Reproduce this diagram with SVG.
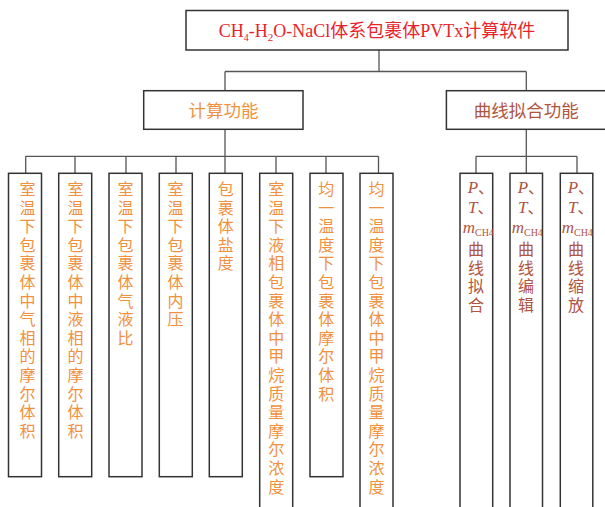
<svg xmlns="http://www.w3.org/2000/svg" width="605" height="507" viewBox="0 0 605 507">
<style>
.box{fill:#fff;stroke:#333;stroke-width:1.5}
.ln{fill:none;stroke:#555;stroke-width:1.3}
.t{font-family:"Liberation Serif","Noto Sans CJK SC",serif}
.title{font-size:18px;fill:#e8232c}
.or{font-size:16px;fill:#f0913f}
.hd{font-size:17.5px}
.br{fill:#b0553f}
.it{font-style:italic;font-size:17px}
.sub{font-size:10px}
</style>
<rect width="605" height="507" fill="#fff"/>
<g id="connectors">
<path class="ln" d="M379 50V71.5M225 71.5H526.3M225 71.5V90.7M526.3 71.5V90.7"/>
<path class="ln" d="M225 129.3V156.3M25.7 156.3H378.5M25.7 156.3V173.3M75 156.3V173.3M126 156.3V173.3M176 156.3V173.3M225 156.3V173.3M276 156.3V173.3M326 156.3V173.3M378.5 156.3V173.3"/>
<path class="ln" d="M526.3 129.3V173.3M476 156.3H577M476 156.3V173.3M577 156.3V173.3"/>
</g>
<g id="root">
<rect class="box" x="186" y="10.5" width="382" height="39.5"/>
<text class="t title" x="377" y="36.5" text-anchor="middle">CH<tspan class="sub" font-size="11" dy="4">4</tspan><tspan dy="-4">-H</tspan><tspan font-size="11" dy="4">2</tspan><tspan dy="-4">O-NaCl体系包裹体PVTx计算软件</tspan></text>
</g>
<g id="calc">
<rect class="box" x="143.7" y="90.7" width="159.3" height="38.6"/>
<text class="t hd" x="223.5" y="116.5" text-anchor="middle" fill="#f0913f">计算功能</text>
</g>
<g id="fit">
<rect class="box" x="446.4" y="90.7" width="160" height="38.6"/>
<text class="t hd br" x="526.3" y="116.5" text-anchor="middle">曲线拟合功能</text>
</g>
<g id="c1">
<rect class="box" x="8.5" y="173.3" width="33" height="303.4"/>
<text class="t or" text-anchor="middle" x="27.5" y="195"><tspan x="27.5" dy="0">室</tspan><tspan x="27.5" dy="18.6">温</tspan><tspan x="27.5" dy="18.6">下</tspan><tspan x="27.5" dy="18.6">包</tspan><tspan x="27.5" dy="18.6">裹</tspan><tspan x="27.5" dy="18.6">体</tspan><tspan x="27.5" dy="18.6">中</tspan><tspan x="27.5" dy="18.6">气</tspan><tspan x="27.5" dy="18.6">相</tspan><tspan x="27.5" dy="18.6">的</tspan><tspan x="27.5" dy="18.6">摩</tspan><tspan x="27.5" dy="18.6">尔</tspan><tspan x="27.5" dy="18.6">体</tspan><tspan x="27.5" dy="18.6">积</tspan></text>
</g>
<g id="c2">
<rect class="box" x="58.7" y="173.3" width="33" height="303.4"/>
<text class="t or" text-anchor="middle" x="75.4" y="195"><tspan x="75.4" dy="0">室</tspan><tspan x="75.4" dy="18.6">温</tspan><tspan x="75.4" dy="18.6">下</tspan><tspan x="75.4" dy="18.6">包</tspan><tspan x="75.4" dy="18.6">裹</tspan><tspan x="75.4" dy="18.6">体</tspan><tspan x="75.4" dy="18.6">中</tspan><tspan x="75.4" dy="18.6">液</tspan><tspan x="75.4" dy="18.6">相</tspan><tspan x="75.4" dy="18.6">的</tspan><tspan x="75.4" dy="18.6">摩</tspan><tspan x="75.4" dy="18.6">尔</tspan><tspan x="75.4" dy="18.6">体</tspan><tspan x="75.4" dy="18.6">积</tspan></text>
</g>
<g id="c3">
<rect class="box" x="109" y="173.3" width="33" height="303.4"/>
<text class="t or" text-anchor="middle" x="125.4" y="195"><tspan x="125.4" dy="0">室</tspan><tspan x="125.4" dy="18.6">温</tspan><tspan x="125.4" dy="18.6">下</tspan><tspan x="125.4" dy="18.6">包</tspan><tspan x="125.4" dy="18.6">裹</tspan><tspan x="125.4" dy="18.6">体</tspan><tspan x="125.4" dy="18.6">气</tspan><tspan x="125.4" dy="18.6">液</tspan><tspan x="125.4" dy="18.6">比</tspan></text>
</g>
<g id="c4">
<rect class="box" x="159.3" y="173.3" width="33" height="303.4"/>
<text class="t or" text-anchor="middle" x="175.5" y="195"><tspan x="175.5" dy="0">室</tspan><tspan x="175.5" dy="18.6">温</tspan><tspan x="175.5" dy="18.6">下</tspan><tspan x="175.5" dy="18.6">包</tspan><tspan x="175.5" dy="18.6">裹</tspan><tspan x="175.5" dy="18.6">体</tspan><tspan x="175.5" dy="18.6">内</tspan><tspan x="175.5" dy="18.6">压</tspan></text>
</g>
<g id="c5">
<rect class="box" x="209.3" y="173.3" width="33" height="303.4"/>
<text class="t or" text-anchor="middle" x="225.7" y="195"><tspan x="225.7" dy="0">包</tspan><tspan x="225.7" dy="18.6">裹</tspan><tspan x="225.7" dy="18.6">体</tspan><tspan x="225.7" dy="18.6">盐</tspan><tspan x="225.7" dy="18.6">度</tspan></text>
</g>
<g id="c6">
<rect class="box" x="259.7" y="173.3" width="33" height="345"/>
<text class="t or" text-anchor="middle" x="276.2" y="195"><tspan x="276.2" dy="0">室</tspan><tspan x="276.2" dy="18.6">温</tspan><tspan x="276.2" dy="18.6">下</tspan><tspan x="276.2" dy="18.6">液</tspan><tspan x="276.2" dy="18.6">相</tspan><tspan x="276.2" dy="18.6">包</tspan><tspan x="276.2" dy="18.6">裹</tspan><tspan x="276.2" dy="18.6">体</tspan><tspan x="276.2" dy="18.6">中</tspan><tspan x="276.2" dy="18.6">甲</tspan><tspan x="276.2" dy="18.6">烷</tspan><tspan x="276.2" dy="18.6">质</tspan><tspan x="276.2" dy="18.6">量</tspan><tspan x="276.2" dy="18.6">摩</tspan><tspan x="276.2" dy="18.6">尔</tspan><tspan x="276.2" dy="18.6">浓</tspan><tspan x="276.2" dy="18.6">度</tspan></text>
</g>
<g id="c7">
<rect class="box" x="310" y="173.3" width="33" height="303.4"/>
<text class="t or" text-anchor="middle" x="326.2" y="195"><tspan x="326.2" dy="0">均</tspan><tspan x="326.2" dy="18.6">一</tspan><tspan x="326.2" dy="18.6">温</tspan><tspan x="326.2" dy="18.6">度</tspan><tspan x="326.2" dy="18.6">下</tspan><tspan x="326.2" dy="18.6">包</tspan><tspan x="326.2" dy="18.6">裹</tspan><tspan x="326.2" dy="18.6">体</tspan><tspan x="326.2" dy="18.6">摩</tspan><tspan x="326.2" dy="18.6">尔</tspan><tspan x="326.2" dy="18.6">体</tspan><tspan x="326.2" dy="18.6">积</tspan></text>
</g>
<g id="c8">
<rect class="box" x="360" y="173.3" width="33" height="345"/>
<text class="t or" text-anchor="middle" x="376.5" y="195"><tspan x="376.5" dy="0">均</tspan><tspan x="376.5" dy="18.6">一</tspan><tspan x="376.5" dy="18.6">温</tspan><tspan x="376.5" dy="18.6">度</tspan><tspan x="376.5" dy="18.6">下</tspan><tspan x="376.5" dy="18.6">包</tspan><tspan x="376.5" dy="18.6">裹</tspan><tspan x="376.5" dy="18.6">体</tspan><tspan x="376.5" dy="18.6">中</tspan><tspan x="376.5" dy="18.6">甲</tspan><tspan x="376.5" dy="18.6">烷</tspan><tspan x="376.5" dy="18.6">质</tspan><tspan x="376.5" dy="18.6">量</tspan><tspan x="376.5" dy="18.6">摩</tspan><tspan x="376.5" dy="18.6">尔</tspan><tspan x="376.5" dy="18.6">浓</tspan><tspan x="376.5" dy="18.6">度</tspan></text>
</g>
<g id="f1">
<rect class="box" x="460" y="173.3" width="32.7" height="345"/>
<text class="t br" x="467.7" y="193"><tspan class="it">P</tspan><tspan font-size="16">、</tspan></text>
<text class="t br" x="468" y="213"><tspan class="it">T</tspan><tspan font-size="16">、</tspan></text>
<text class="t br" x="462.7" y="233"><tspan class="it">m</tspan><tspan class="sub" dy="3">CH4</tspan></text>
<text class="t br" font-size="16" text-anchor="middle" x="476" y="255"><tspan x="476" dy="0">曲</tspan><tspan x="476" dy="18.5">线</tspan><tspan x="476" dy="18.5">拟</tspan><tspan x="476" dy="18.5">合</tspan></text>
</g>
<g id="f2">
<rect class="box" x="510" y="173.3" width="32.5" height="345"/>
<text class="t br" x="517.7" y="193"><tspan class="it">P</tspan><tspan font-size="16">、</tspan></text>
<text class="t br" x="518" y="213"><tspan class="it">T</tspan><tspan font-size="16">、</tspan></text>
<text class="t br" x="511.7" y="233"><tspan class="it">m</tspan><tspan class="sub" dy="3">CH4</tspan></text>
<text class="t br" font-size="16" text-anchor="middle" x="526" y="255"><tspan x="526" dy="0">曲</tspan><tspan x="526" dy="18.5">线</tspan><tspan x="526" dy="18.5">编</tspan><tspan x="526" dy="18.5">辑</tspan></text>
</g>
<g id="f3">
<rect class="box" x="560.3" y="173.3" width="32.5" height="345"/>
<text class="t br" x="567.7" y="193"><tspan class="it">P</tspan><tspan font-size="16">、</tspan></text>
<text class="t br" x="568" y="213"><tspan class="it">T</tspan><tspan font-size="16">、</tspan></text>
<text class="t br" x="561.7" y="233"><tspan class="it">m</tspan><tspan class="sub" dy="3">CH4</tspan></text>
<text class="t br" font-size="16" text-anchor="middle" x="576" y="255"><tspan x="576" dy="0">曲</tspan><tspan x="576" dy="18.5">线</tspan><tspan x="576" dy="18.5">缩</tspan><tspan x="576" dy="18.5">放</tspan></text>
</g>
</svg>
